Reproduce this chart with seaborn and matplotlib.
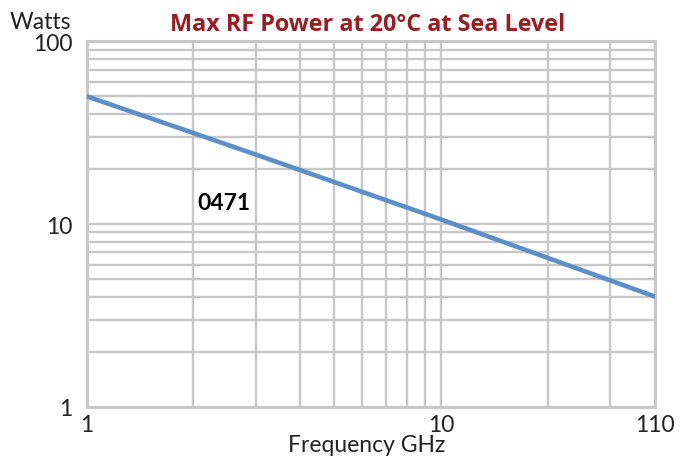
import numpy as np
import matplotlib
matplotlib.use("Agg")
import matplotlib.pyplot as plt
import seaborn as sns

# Values
freq_ghz = [1, 2, 3, 10, 110]
power_w = [50, 31.5, 24, 10.6, 4]
x_tick_values = [1, 10, 110]
x_tick_labels = ["1", "10", "110"]
y_tick_values = [1, 10, 100]
y_tick_labels = ["1", "10", "100"]
part_label = "0471"
title = "Max RF Power at 20°C at Sea Level"

# The x axis is log from 1 to 10; the 10..110 span is squeezed into
# what a log decade would give for 10..~40
X_EDGE_EQUIV = 40.3
K = np.log10(X_EDGE_EQUIV / 10) / np.log10(110 / 10)


def fwd(x):
    lx = np.log10(np.clip(np.asarray(x, dtype=float), 1e-9, None))
    return np.where(lx <= 1, lx, 1 + (lx - 1) * K)


def inv(u):
    u = np.asarray(u, dtype=float)
    return np.where(u <= 1, 10 ** u, 10 ** (1 + (u - 1) / K))


sns.set_style("white")
plt.rcParams["font.family"] = ["Lato", "DejaVu Sans"]

GRID = "#c8c8c8"
TEXT = "#222222"
fig = plt.figure(figsize=(6.91, 4.64), dpi=100)
ax = fig.add_axes([0.1255, 0.1213, 0.8229, 0.7875])

sns.lineplot(x=freq_ghz, y=power_w, ax=ax, color="#5b8fc8", linewidth=3.3,
             solid_capstyle="butt", zorder=3)

ax.set_xscale("function", functions=(fwd, inv))
ax.set_yscale("log")
ax.set_xlim(1, 110)
ax.set_ylim(1, 100)

ax.set_xticks(x_tick_values)
ax.set_xticklabels(x_tick_labels)
x_minor = list(range(2, 10)) + [float(inv(np.log10(20))), float(inv(np.log10(30)))]
ax.set_xticks(x_minor, minor=True)
ax.set_yticks(y_tick_values)
ax.set_yticklabels(y_tick_labels)
ax.set_yticks(list(range(2, 10)) + list(range(20, 100, 10)), minor=True)
ax.yaxis.set_minor_formatter(matplotlib.ticker.NullFormatter())
ax.xaxis.set_minor_formatter(matplotlib.ticker.NullFormatter())

ax.grid(True, which="both", color=GRID, linewidth=1.7)
ax.set_axisbelow(True)
for s in ax.spines.values():
    s.set_color(GRID)
    s.set_linewidth(2.2)

ax.tick_params(axis="x", which="both", length=0, pad=5, labelsize=16.5, labelcolor=TEXT)
ax.tick_params(axis="y", which="major", length=4.5, width=1.5, color=GRID, pad=6,
               labelsize=16.5, labelcolor=TEXT)
ax.tick_params(axis="y", which="minor", length=0)

ax.set_xlabel("Frequency GHz", fontsize=16.5, color=TEXT, labelpad=-1)
ax.xaxis.set_label_coords(0.492, -0.075)
ax.set_ylabel("")
ax.text(-0.027, 1.055, "Watts", transform=ax.transAxes, ha="right", va="center",
        fontsize=16.5, color=TEXT)
ax.set_title(title, fontsize=16.8, fontweight="bold", color="#9b1b20", pad=8,
             family=["Open Sans", "DejaVu Sans"], x=0.494)
ax.text(2.05, 13.1, part_label, fontsize=16.5, fontweight="bold", color="black",
        ha="left", va="center")

fig.savefig("out.png", dpi=100)
